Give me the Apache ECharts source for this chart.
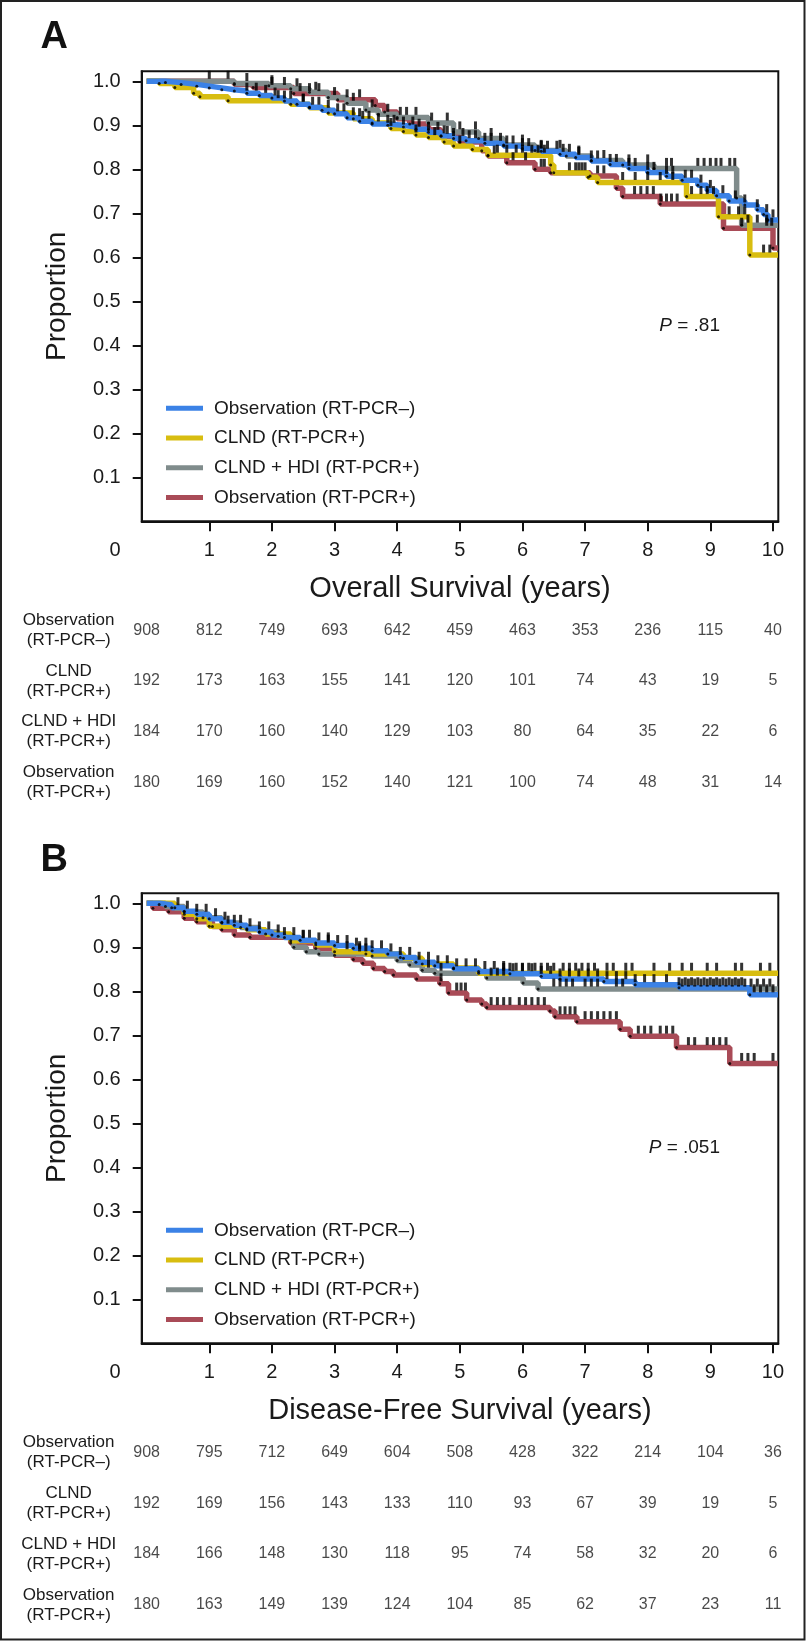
<!DOCTYPE html>
<html><head><meta charset="utf-8">
<script src="https://cdn.jsdelivr.net/npm/echarts@6/dist/echarts.min.js"></script>
<style>html,body{margin:0;padding:0;background:#fff}#chart{width:809px;height:1641px}</style>
</head><body><div id="chart"></div>
<script>
// ---------------- DATA ----------------
const years = [0, 1, 2, 3, 4, 5, 6, 7, 8, 9, 10];
const yTicks = [0.1, 0.2, 0.3, 0.4, 0.5, 0.6, 0.7, 0.8, 0.9, 1.0];
const groupNames = ['Observation (RT-PCR–)', 'CLND (RT-PCR+)', 'CLND + HDI (RT-PCR+)', 'Observation (RT-PCR+)'];
const rowLabels = ['Observation\n(RT-PCR–)', 'CLND\n(RT-PCR+)', 'CLND + HDI\n(RT-PCR+)', 'Observation\n(RT-PCR+)'];
const xTitles = ['Overall Survival (years)', 'Disease-Free Survival (years)'];
const pValues = ['.81', '.051'];

// Panel A – overall survival: [years, proportion] after each event (last pair = end of follow-up)
const osObsNeg = [[0,1.0],[0.3,0.997],[0.55,0.993],[0.8,0.989],[1.0,0.985],[1.2,0.981],[1.4,0.978],[1.6,0.973],[1.8,0.968],[2.0,0.962],[2.2,0.955],[2.4,0.948],[2.6,0.941],[2.8,0.934],[3.0,0.926],[3.2,0.917],[3.4,0.909],[3.6,0.903],[3.85,0.9],[4.1,0.896],[4.3,0.891],[4.5,0.884],[4.7,0.876],[4.9,0.870],[5.1,0.865],[5.4,0.859],[5.7,0.853],[6.0,0.847],[6.3,0.841],[6.6,0.834],[6.85,0.827],[7.1,0.819],[7.4,0.811],[7.7,0.802],[8.0,0.793],[8.3,0.784],[8.55,0.775],[8.8,0.764],[8.95,0.752],[9.1,0.740],[9.3,0.728],[9.55,0.719],[9.75,0.708],[9.85,0.697],[9.92,0.685],[10.08,0.685]];
const osClnd = [[0,1.0],[0.2,0.995],[0.45,0.986],[0.75,0.973],[0.85,0.965],[1.3,0.956],[2.3,0.948],[2.6,0.94],[2.9,0.928],[3.3,0.915],[3.6,0.905],[3.9,0.893],[4.1,0.886],[4.3,0.878],[4.5,0.872],[4.75,0.862],[4.9,0.853],[5.2,0.845],[5.45,0.832],[6.45,0.81],[6.5,0.792],[7.05,0.782],[7.2,0.770],[8.62,0.738],[9.13,0.692],[9.63,0.605],[10.08,0.605]];
const osClndHdi = [[0,1.0],[1.4,0.995],[1.95,0.99],[2.3,0.983],[2.6,0.975],[2.9,0.963],[3.2,0.95],[3.5,0.935],[3.7,0.925],[4.0,0.918],[4.5,0.905],[4.9,0.885],[5.3,0.87],[5.7,0.855],[6.2,0.843],[6.7,0.83],[7.1,0.82],[7.6,0.81],[8.1,0.802],[9.42,0.735],[9.5,0.673],[10.08,0.673]];
const osObsPos = [[0,1.0],[1.4,0.993],[1.7,0.986],[2.35,0.972],[3.05,0.958],[3.65,0.945],[3.8,0.93],[4.0,0.915],[4.2,0.903],[4.5,0.89],[4.7,0.875],[5.0,0.862],[5.35,0.842],[5.45,0.83],[5.75,0.815],[6.2,0.80],[6.45,0.792],[7.08,0.785],[7.5,0.757],[7.6,0.738],[8.2,0.721],[9.21,0.666],[10.0,0.621],[10.08,0.621]];

// Panel A – censoring times (years)
const osObsNegCens = [1.6,1.75,1.9,2.05,2.2,2.3,2.5,2.65,2.75,2.9,3.05,3.15,3.3,3.45,3.55,3.7,3.85,3.95,4.1,4.25,4.35,4.5,4.65,4.75,4.9,5.05,5.15,5.25,5.4,5.5,5.65,5.75,5.85,6.0,6.1,6.3,6.4,6.55,6.65,6.75,6.9,7.1,7.2,7.4,7.5,7.7,7.8,8.0,8.1,8.3,8.4,8.6,8.7,8.85,9.0,9.2,9.4,9.55,9.75,9.9,10.0];
const osClndCens = [2.1,2.5,3.4,3.9,4.3,4.6,5.0,5.6,5.75,5.9,6.0,6.15,6.25,6.35,6.75,6.85,6.95,7.6,7.8,8.0,8.2,8.4,8.7,8.85,8.95,9.05,9.3,9.45,9.55,9.85,9.95];
const osClndHdiCens = [1.0,1.3,1.6,2.0,2.4,2.7,3.0,3.3,3.6,3.85,4.05,4.15,4.3,4.55,4.8,5.0,5.25,5.5,6.0,6.3,6.6,6.9,7.3,7.7,8.0,8.3,8.38,8.8,8.9,9.0,9.09,9.17,9.31,9.39,9.6,9.75,9.9];
const osObsPosCens = [2.0,2.2,2.45,2.6,2.75,3.2,3.4,4.8,5.55,5.85,6.05,6.3,6.35,6.9,7.0,7.2,7.3,7.79,7.89,7.99,8.09,8.21,8.3,8.38,8.47,9.5,9.9,9.98];

// Panel B – disease-free survival
const dfsObsNeg = [[0,1.0],[0.2,0.997],[0.4,0.99],[0.6,0.982],[0.8,0.975],[1.0,0.965],[1.2,0.957],[1.4,0.95],[1.6,0.942],[1.8,0.935],[2.0,0.928],[2.2,0.922],[2.45,0.916],[2.7,0.91],[3.0,0.904],[3.3,0.898],[3.6,0.892],[3.85,0.885],[4.05,0.877],[4.3,0.866],[4.6,0.858],[4.9,0.851],[5.3,0.845],[5.8,0.84],[6.3,0.834],[6.6,0.828],[7.3,0.822],[7.8,0.815],[8.5,0.808],[9.63,0.792],[10.08,0.792]];
const dfsClnd = [[0,1.0],[0.45,0.99],[0.6,0.975],[0.8,0.965],[1.0,0.948],[1.6,0.94],[1.9,0.93],[2.3,0.915],[2.7,0.905],[3.0,0.89],[3.5,0.885],[4.1,0.875],[4.4,0.862],[4.9,0.853],[5.3,0.841],[10.08,0.841]];
const dfsClndHdi = [[0,1.0],[0.3,0.993],[0.6,0.98],[0.9,0.967],[1.2,0.955],[1.5,0.945],[1.8,0.935],[2.1,0.925],[2.35,0.9],[2.55,0.89],[2.75,0.885],[3.6,0.88],[4.0,0.87],[4.2,0.86],[4.4,0.848],[4.6,0.841],[5.43,0.83],[6.01,0.819],[6.25,0.805],[10.08,0.805]];
const dfsObsPos = [[0,1.0],[0.1,0.989],[0.35,0.981],[0.6,0.966],[0.8,0.958],[1.05,0.947],[1.2,0.94],[1.4,0.928],[1.65,0.923],[2.3,0.91],[2.7,0.897],[3.0,0.882],[3.3,0.872],[3.45,0.864],[3.62,0.852],[3.8,0.845],[3.94,0.837],[4.31,0.828],[4.68,0.817],[4.82,0.796],[5.11,0.78],[5.35,0.771],[5.43,0.763],[6.44,0.755],[6.52,0.742],[6.87,0.731],[7.56,0.714],[7.72,0.698],[8.46,0.672],[9.31,0.636],[10.08,0.636]];

const dfsObsNegCens = [0.5,0.65,0.8,0.95,1.1,1.25,1.4,1.5,1.65,1.8,1.95,2.1,2.2,2.35,2.5,2.6,2.75,2.9,3.05,3.2,3.35,3.5,3.6,3.75,3.9,4.05,4.2,4.35,4.5,4.65,4.8,4.95,5.1,5.25,5.4,5.55,5.7,5.85,6.0,6.15,6.3,6.45,6.6,6.75,6.9,7.05,7.2,7.35,7.5,7.65,7.8,7.95,8.1,8.3,8.5,8.6,8.7,8.8,8.9,9.0,9.1,9.2,9.3,9.4,9.5,9.7,9.8,9.9,10.0];
const dfsClndCens = [1.3,2.5,2.9,3.2,3.4,5.7,5.8,5.9,6.0,6.1,6.2,6.3,6.4,6.5,6.65,6.75,6.85,6.95,7.05,7.15,7.35,7.45,7.65,7.75,8.1,8.35,8.55,8.7,8.95,9.1,9.4,9.5,9.8,9.95];
const dfsClndHdiCens = [3.4,3.5,4.5,4.7,5.5,5.6,5.7,6.5,6.6,6.7,6.8,7.0,7.1,7.2,7.5,7.6,8.55,8.65,8.75,8.85,8.95,9.05,9.15,9.25,9.35,9.45,9.55,9.65,9.75,9.85,9.95];
const dfsObsPosCens = [4.7,4.95,5.02,5.09,5.5,5.6,5.7,5.8,5.95,6.05,6.15,6.25,6.35,6.6,6.68,6.76,6.84,7.0,7.1,7.2,7.3,7.4,7.5,7.85,7.95,8.05,8.2,8.3,8.4,8.65,8.75,8.95,9.05,9.15,9.25,9.5,9.6,9.7,10.0];

// Numbers at risk
const osRiskObsNeg = [908, 812, 749, 693, 642, 459, 463, 353, 236, 115, 40];
const osRiskClnd = [192, 173, 163, 155, 141, 120, 101, 74, 43, 19, 5];
const osRiskClndHdi = [184, 170, 160, 140, 129, 103, 80, 64, 35, 22, 6];
const osRiskObsPos = [180, 169, 160, 152, 140, 121, 100, 74, 48, 31, 14];
const dfsRiskObsNeg = [908, 795, 712, 649, 604, 508, 428, 322, 214, 104, 36];
const dfsRiskClnd = [192, 169, 156, 143, 133, 110, 93, 67, 39, 19, 5];
const dfsRiskClndHdi = [184, 166, 148, 130, 118, 95, 74, 58, 32, 20, 6];
const dfsRiskObsPos = [180, 163, 149, 139, 124, 104, 85, 62, 37, 23, 11];

// ---------------- STYLE / LAYOUT ----------------
const colors = ['#3b82e6', '#d8bd10', '#808c8c', '#a94b57'];
const FONT = '"Liberation Sans", Arial, Helvetica, sans-serif';
const INK = '#1a1a1a';
const L = 141.7, W = 636.6, H = 450;
const plotTops = [71.3, 893.3];
const tableTops = [605, 1426.8];
const tableHeights = [202.8, 203.6];
const xMin = -0.079, xMax = 10.085, yMax = 450 / 440;

const panels = [
  { steps: [osObsNeg, osClnd, osClndHdi, osObsPos],
    cens: [osObsNegCens, osClndCens, osClndHdiCens, osObsPosCens],
    risk: [osRiskObsNeg, osRiskClnd, osRiskClndHdi, osRiskObsPos] },
  { steps: [dfsObsNeg, dfsClnd, dfsClndHdi, dfsObsPos],
    cens: [dfsObsNegCens, dfsClndCens, dfsClndHdiCens, dfsObsPosCens],
    risk: [dfsRiskObsNeg, dfsRiskClnd, dfsRiskClndHdi, dfsRiskObsPos] }
];

function survAt(steps, t) {
  let s = steps[0][1];
  for (const [tt, v] of steps) { if (tt <= t) s = v; else break; }
  return s;
}

const grid = [], xAxis = [], yAxis = [], series = [], legend = [], graphic = [];
panels.forEach((p, i) => {
  const pi = 2 * i, ti = 2 * i + 1;
  grid.push({ left: L, top: plotTops[i], width: W, height: H, show: true, borderColor: '#111', borderWidth: 2, backgroundColor: 'transparent' });
  xAxis.push({
    gridIndex: pi, type: 'value', min: xMin, max: xMax,
    axisLine: { show: true, onZero: false, lineStyle: { color: '#111', width: 2 } },
    axisTick: { show: true, customValues: years.slice(1), length: 10, lineStyle: { color: '#111', width: 2 } },
    axisLabel: { customValues: years, margin: 19, fontSize: 20, color: INK, fontFamily: FONT,
      formatter: v => (v === 0 ? '{z|0}' : String(v)),
      rich: { z: { padding: [0, 63, 0, 0], fontSize: 20, color: INK, fontFamily: FONT } } },
    splitLine: { show: false },
    name: xTitles[i], nameLocation: 'middle', nameGap: 53,
    nameTextStyle: { fontSize: 29, color: INK, fontFamily: FONT }
  });
  yAxis.push({
    gridIndex: pi, type: 'value', min: 0, max: yMax,
    axisLine: { show: true, onZero: false, lineStyle: { color: '#111', width: 2 } },
    axisTick: { show: true, customValues: yTicks, length: 9, lineStyle: { color: '#111', width: 2 } },
    axisLabel: { customValues: yTicks, margin: 21, fontSize: 20, color: INK, fontFamily: FONT, formatter: v => v.toFixed(1) },
    splitLine: { show: false },
    name: 'Proportion', nameLocation: 'middle', nameGap: 70,
    nameTextStyle: { fontSize: 28, color: INK, fontFamily: FONT }
  });
  grid.push({ left: L, top: tableTops[i], width: W, height: tableHeights[i] });
  xAxis.push({ gridIndex: ti, type: 'value', min: xMin, max: xMax, show: false });
  yAxis.push({
    gridIndex: ti, type: 'category', data: rowLabels, inverse: true,
    axisLine: { show: false }, axisTick: { show: false }, splitLine: { show: false },
    axisLabel: { fontSize: 17, lineHeight: 20, align: 'center', margin: 73, color: INK, fontFamily: FONT }
  });

  [3, 2, 1, 0].forEach(g => {
    series.push({
      name: groupNames[g], type: 'line', xAxisIndex: pi, yAxisIndex: pi,
      step: 'end', data: p.steps[g], showSymbol: false, symbol: 'none',
      color: colors[g], lineStyle: { width: 5.5, color: colors[g] }, itemStyle: { color: colors[g] },
      z: 2, silent: true
    });
  });
  [3, 2, 1, 0].forEach(g => {
    const steps = p.steps[g];
    series.push({
      name: 'events-' + i + '-' + g, type: 'scatter', xAxisIndex: pi, yAxisIndex: pi,
      data: steps.slice(1, -1), symbolSize: 3, itemStyle: { color: '#000' }, z: 3, silent: true
    });
    series.push({
      name: 'censored-' + i + '-' + g, type: 'scatter', xAxisIndex: pi, yAxisIndex: pi,
      data: p.cens[g].map(t => [t, survAt(steps, t)]),
      symbol: 'rect', symbolSize: [3, 8], symbolOffset: [0, -6.5],
      itemStyle: { color: '#000' }, z: 4, silent: true
    });
  });

  const tbl = [];
  p.risk.forEach((row, r) => row.forEach((v, c) => tbl.push([years[c], r, v])));
  series.push({
    name: 'risk-' + i, type: 'scatter', xAxisIndex: ti, yAxisIndex: ti,
    data: tbl, symbolSize: 1, itemStyle: { color: 'rgba(0,0,0,0)' }, silent: true,
    label: { show: true, position: 'inside', formatter: d => String(d.value[2]), fontSize: 16, color: INK, fontFamily: FONT }
  });

  legend.push({
    data: groupNames, orient: 'vertical', left: 161, top: plotTops[i] + 322.5,
    icon: 'rect', itemWidth: 37, itemHeight: 5, itemGap: 10.7, selectedMode: false,
    textStyle: { fontSize: 19, color: INK, fontFamily: FONT, padding: [0, 0, 0, 6] }
  });

  graphic.push({
    type: 'text', x: 720, y: plotTops[i] + 254.5, z: 10,
    style: { text: '{i|P} = ' + pValues[i], align: 'right', verticalAlign: 'middle', fontSize: 19, fill: INK, fontFamily: FONT,
      rich: { i: { fontStyle: 'italic', fontSize: 19, fill: INK, fontFamily: FONT } } }
  });
  graphic.push({
    type: 'text', x: 40.5, y: i === 0 ? 37.5 : 860.8, z: 10,
    style: { text: i === 0 ? 'A' : 'B', align: 'left', verticalAlign: 'middle', fontSize: 38, fontWeight: 'bold', fill: '#111', fontFamily: FONT }
  });
});

graphic.push({
  type: 'rect', z: 0, shape: { x: 1, y: 1, width: 803.5, height: 1638.5 },
  style: { fill: 'none', stroke: '#222', lineWidth: 2 }
});

const chart = echarts.init(document.getElementById('chart'), null, { renderer: 'canvas' });
chart.setOption({
  animation: false,
  backgroundColor: '#fff',
  textStyle: { fontFamily: FONT },
  grid, xAxis, yAxis, series, legend, graphic
});
</script></body></html>
